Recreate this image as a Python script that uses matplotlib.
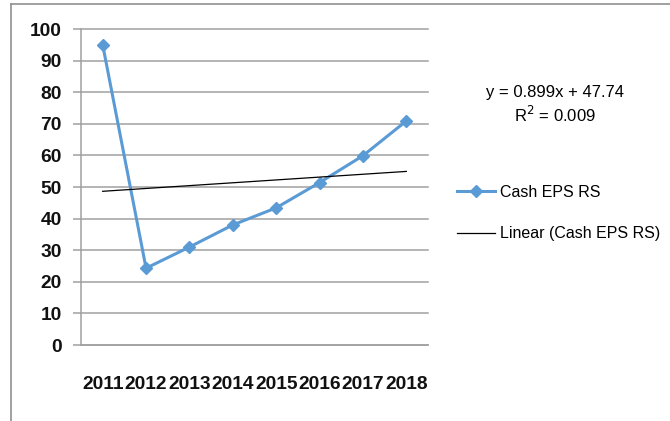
import matplotlib
matplotlib.use("Agg")
import matplotlib.pyplot as plt
from matplotlib.lines import Line2D
from matplotlib import font_manager
import numpy as np

# Cash EPS (Rs) by year
years = ["2011", "2012", "2013", "2014", "2015", "2016", "2017", "2018"]
cash_eps = [95.0, 24.3, 31.0, 38.0, 43.4, 51.4, 59.9, 70.9]

# Linear trend reported by the spreadsheet (x = 1..n)
trend_slope = 0.899
trend_intercept = 47.74
trend_r2 = 0.009

installed = {f.name for f in font_manager.fontManager.ttflist}
FONT = [f for f in ("Liberation Sans", "DejaVu Sans") if f in installed] or ["DejaVu Sans"]
BLUE = "#5b9bd5"
GRID = "#a0a0a0"

W, H = 670, 421
fig = plt.figure(figsize=(W / 100, H / 100), dpi=100)

# outer chart border (left and top edges visible)
fig.add_artist(Line2D([10.5 / W, 10.5 / W], [0, 1 - 4 / H], transform=fig.transFigure,
                      color="#909090", lw=1.2))
fig.add_artist(Line2D([10.5 / W, 1], [1 - 4 / H, 1 - 4 / H], transform=fig.transFigure,
                      color="#909090", lw=1.2))

left, right, top, bottom = 81, 428, 29, 345
ax = fig.add_axes([left / W, 1 - bottom / H, (right - left) / W, (bottom - top) / H])

x = np.arange(1, len(years) + 1)
ax.plot(x, cash_eps, color=BLUE, lw=2.2, marker="D", markersize=6.5,
        markerfacecolor=BLUE, markeredgecolor=BLUE, label="Cash EPS RS", zorder=3)

trend_y = trend_slope * x + trend_intercept
ax.plot([x[0], x[-1]], [trend_y[0], trend_y[-1]], color="black", lw=0.9,
        label="Linear (Cash EPS RS)", zorder=4)

ax.set_xlim(0.5, len(years) + 0.5)
ax.set_ylim(0, 100)
ax.set_yticks(np.arange(0, 101, 10))
ax.set_xticks(x)
ax.set_xticklabels(years)

ax.grid(axis="y", color=GRID, lw=1.1)
for gl in ax.get_ygridlines():
    gl.set_clip_on(False)
ax.set_axisbelow(True)
for side in ("top", "right"):
    ax.spines[side].set_visible(False)
for side in ("left", "bottom"):
    ax.spines[side].set_color(GRID)
    ax.spines[side].set_linewidth(1.1)

ax.tick_params(axis="y", length=6, width=1.1, color=GRID, pad=8)
ax.tick_params(axis="x", length=0, pad=22)
for lab in ax.get_xticklabels() + ax.get_yticklabels():
    lab.set_fontfamily(FONT)
    lab.set_fontweight("bold")
    lab.set_fontsize(13.8)
    lab.set_color("#111111")

# trendline equation
fig.text(555 / W, 1 - 93 / H, f"y = {trend_slope}x + {trend_intercept}",
         ha="center", va="center", fontsize=12, family=FONT)
fig.text(555 / W, 1 - 115 / H, f"R$^2$ = {trend_r2:.3f}",
         ha="center", va="center", fontsize=12, family=FONT)

handles, labels = ax.get_legend_handles_labels()
leg = fig.legend(handles, labels, loc="center left",
                 bbox_to_anchor=(457 / W, 1 - 213 / H), frameon=False,
                 prop={"family": FONT, "size": 11.5}, handlelength=2.4,
                 handletextpad=0.3, labelspacing=1.65, borderpad=0,
                 borderaxespad=0)

fig.savefig("out.png", dpi=100, facecolor="white")
